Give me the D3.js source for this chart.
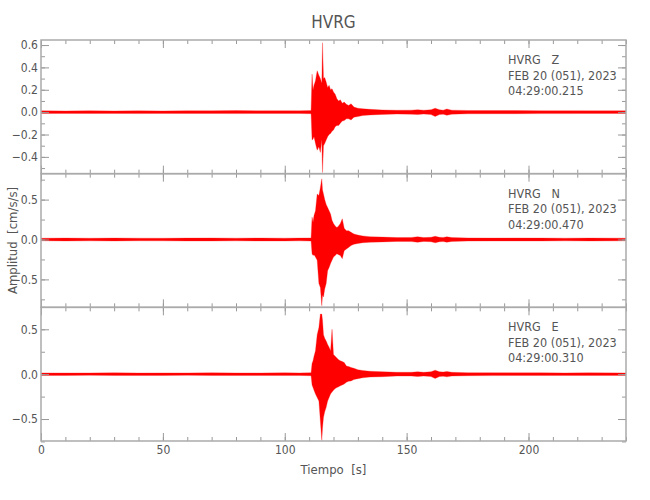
<!DOCTYPE html>
<html>
<head>
<meta charset="utf-8">
<script src="https://cdn.jsdelivr.net/npm/d3@7"></script>
<style>
  body { margin: 0; background: #fff; }
  text { font-family: "Liberation Sans Narrow", "DejaVu Sans Condensed", sans-serif; fill: #555; }
</style>
</head>
<body>
<script>
// tiempos (s) donde se leyo la envolvente de cada traza
var tiempo = [0, 10, 20, 30, 40, 50, 60, 70, 80, 90, 100, 106, 110.8, 111.2, 111.6, 112.0, 112.6, 113.3, 114.0, 114.6,
    115.2, 115.5, 115.9, 116.4, 117.0, 117.6, 118.2, 118.8, 119.4, 120.0, 120.7, 121.4, 122.1, 122.8, 123.6, 124.4,
    125.3, 126.2, 127.2, 128.4, 130, 132, 135, 140, 146, 152, 154.5, 157, 160, 161.7, 163.5, 165, 166.5, 168.5,
    175, 185, 195, 205, 215, 225, 240];

// envolvente superior / inferior, componente Z
var maxZ = [0.012, 0.011, 0.013, 0.011, 0.012, 0.011, 0.013, 0.012, 0.014, 0.012, 0.013, 0.012, 0.014, 0.34, 0.20, 0.24, 0.28, 0.37, 0.33, 0.30,
    0.26, 0.62, 0.30, 0.31, 0.27, 0.22, 0.24, 0.20, 0.21, 0.18, 0.16, 0.12, 0.10, 0.11, 0.08, 0.09,
    0.07, 0.06, 0.075, 0.045, 0.035, 0.03, 0.025, 0.02, 0.017, 0.018, 0.022, 0.017, 0.022, 0.035, 0.022, 0.018, 0.028, 0.018,
    0.015, 0.014, 0.014, 0.013, 0.013, 0.012, 0.012];
var minZ = [-0.012, -0.011, -0.012, -0.011, -0.013, -0.011, -0.012, -0.012, -0.013, -0.012, -0.012, -0.012, -0.014, -0.25, -0.24, -0.22, -0.28, -0.34, -0.31, -0.36,
    -0.25, -0.54, -0.30, -0.28, -0.25, -0.22, -0.20, -0.19, -0.17, -0.16, -0.13, -0.12, -0.12, -0.10, -0.08, -0.075,
    -0.06, -0.06, -0.07, -0.045, -0.04, -0.03, -0.025, -0.02, -0.017, -0.018, -0.022, -0.017, -0.022, -0.038, -0.022, -0.018, -0.028, -0.018,
    -0.015, -0.014, -0.014, -0.013, -0.013, -0.012, -0.012];

// componente N
var maxN = [0.016, 0.018, 0.016, 0.018, 0.017, 0.016, 0.018, 0.019, 0.017, 0.018, 0.017, 0.018, 0.02, 0.28, 0.22, 0.30, 0.36, 0.57, 0.55, 0.65,
    0.76, 0.62, 0.57, 0.50, 0.44, 0.40, 0.36, 0.32, 0.24, 0.20, 0.17, 0.15, 0.17, 0.20, 0.26, 0.14,
    0.11, 0.11, 0.09, 0.07, 0.055, 0.045, 0.035, 0.03, 0.024, 0.026, 0.035, 0.024, 0.028, 0.04, 0.028, 0.026, 0.034, 0.024,
    0.02, 0.018, 0.019, 0.018, 0.017, 0.018, 0.017];
var minN = [-0.016, -0.018, -0.017, -0.018, -0.016, -0.017, -0.018, -0.018, -0.017, -0.018, -0.018, -0.017, -0.02, -0.18, -0.20, -0.19, -0.22, -0.26, -0.55, -0.60,
    -0.83, -0.70, -0.72, -0.62, -0.55, -0.39, -0.35, -0.30, -0.26, -0.22, -0.20, -0.18, -0.19, -0.20, -0.24, -0.14,
    -0.12, -0.10, -0.075, -0.06, -0.05, -0.04, -0.035, -0.03, -0.024, -0.026, -0.035, -0.024, -0.028, -0.042, -0.028, -0.026, -0.034, -0.024,
    -0.02, -0.018, -0.018, -0.018, -0.017, -0.018, -0.017];

// componente E
var maxE = [0.014, 0.013, 0.014, 0.015, 0.013, 0.014, 0.014, 0.015, 0.014, 0.013, 0.015, 0.014, 0.017, 0.12, 0.15, 0.20, 0.26, 0.44, 0.52, 0.67,
    0.67, 0.60, 0.44, 0.40, 0.37, 0.33, 0.30, 0.26, 0.50, 0.22, 0.20, 0.18, 0.16, 0.15, 0.14, 0.13,
    0.09, 0.085, 0.075, 0.065, 0.05, 0.04, 0.032, 0.028, 0.021, 0.021, 0.027, 0.021, 0.027, 0.045, 0.027, 0.023, 0.03, 0.021,
    0.017, 0.016, 0.015, 0.015, 0.014, 0.015, 0.014];
var minE = [-0.014, -0.014, -0.013, -0.014, -0.015, -0.014, -0.013, -0.014, -0.015, -0.014, -0.014, -0.014, -0.017, -0.12, -0.15, -0.18, -0.22, -0.26, -0.30, -0.52,
    -0.74, -0.60, -0.48, -0.42, -0.37, -0.30, -0.26, -0.22, -0.20, -0.18, -0.16, -0.15, -0.14, -0.13, -0.12, -0.11,
    -0.09, -0.08, -0.075, -0.06, -0.05, -0.04, -0.032, -0.028, -0.021, -0.021, -0.027, -0.021, -0.027, -0.048, -0.027, -0.023, -0.03, -0.021,
    -0.017, -0.016, -0.015, -0.015, -0.014, -0.015, -0.014];

var componentes = ["Z", "N", "E"];
var horas = ["04:29:00.215", "04:29:00.470", "04:29:00.310"];
var fecha = "FEB 20 (051), 2023";
var estacion = "HVRG";

var ticksX = [0, 50, 100, 150, 200];
var ticksZ = [-0.4, -0.2, 0.0, 0.2, 0.4, 0.6];
var ticksNE = [-0.5, 0.0, 0.5];

var W = 650, H = 500;
var mLeft = 41, mRight = 626, mTop = 40, mBottom = 441;
var ph = (mBottom - mTop) / 3;

var svg = d3.select("body").append("svg").attr("width", W).attr("height", H);

var x = d3.scaleLinear().domain([0, 240]).range([mLeft, mRight]);
var minorX = d3.range(0, 241, 10);

var paneles = [
    {comp: componentes[0], max: maxZ, min: minZ, dom: [-0.55, 0.645], major: ticksZ, minor: d3.range(-0.5, 0.65, 0.1)},
    {comp: componentes[1], max: maxN, min: minN, dom: [-0.85, 0.825], major: ticksNE, minor: d3.range(-0.75, 0.8, 0.25)},
    {comp: componentes[2], max: maxE, min: minE, dom: [-0.745, 0.745], major: ticksNE, minor: d3.range(-0.75, 0.8, 0.25)}
];

var fmt = function (d) { return d3.format(".1f")(d).replace("-", "\u2212"); };

svg.append("defs").selectAll("clipPath").data(paneles).enter().append("clipPath")
    .attr("id", function (d, i) { return "clip" + i; })
    .append("rect")
    .attr("x", mLeft).attr("y", function (d, i) { return mTop + i * ph; })
    .attr("width", mRight - mLeft).attr("height", ph);

function estilo(g) {
    g.select(".domain").remove();
    g.selectAll(".tick line").attr("stroke", "#999").attr("stroke-width", 1);
    g.selectAll(".tick text").style("font-size", "12px").attr("fill", "#555");
}

paneles.forEach(function (p, i) {
    var y0 = mTop + i * ph;
    var y = d3.scaleLinear().domain(p.dom).range([y0 + ph, y0]);

    var area = d3.area()
        .x(function (d, k) { return x(tiempo[k]); })
        .y0(function (d, k) { return y(p.min[k]); })
        .y1(function (d, k) { return y(p.max[k]); });

    svg.append("path")
        .datum(tiempo)
        .attr("clip-path", "url(#clip" + i + ")")
        .attr("d", area)
        .attr("fill", "#ff0000")
        .attr("stroke", "#ff2020")
        .attr("stroke-width", 0.3);

    // ejes y
    svg.append("g").attr("transform", "translate(" + mLeft + ",0)")
        .call(d3.axisLeft(y).tickValues(p.major).tickSize(-8).tickPadding(3).tickFormat(fmt))
        .call(estilo);
    svg.append("g").attr("transform", "translate(" + mLeft + ",0)")
        .call(d3.axisLeft(y).tickValues(p.minor).tickSize(-4).tickFormat(""))
        .call(estilo);
    svg.append("g").attr("transform", "translate(" + mRight + ",0)")
        .call(d3.axisRight(y).tickValues(p.major).tickSize(-8).tickFormat(""))
        .call(estilo);
    svg.append("g").attr("transform", "translate(" + mRight + ",0)")
        .call(d3.axisRight(y).tickValues(p.minor).tickSize(-4).tickFormat(""))
        .call(estilo);

    // ejes x
    svg.append("g").attr("transform", "translate(0," + y0 + ")")
        .call(d3.axisTop(x).tickValues(ticksX).tickSize(-8).tickFormat(""))
        .call(estilo);
    svg.append("g").attr("transform", "translate(0," + y0 + ")")
        .call(d3.axisTop(x).tickValues(minorX).tickSize(-4).tickFormat(""))
        .call(estilo);
    svg.append("g").attr("transform", "translate(0," + (y0 + ph) + ")")
        .call(d3.axisBottom(x).tickValues(ticksX).tickSize(-8).tickPadding(4)
            .tickFormat(i === 2 ? d3.format("d") : ""))
        .call(estilo);
    svg.append("g").attr("transform", "translate(0," + (y0 + ph) + ")")
        .call(d3.axisBottom(x).tickValues(minorX).tickSize(-4).tickFormat(""))
        .call(estilo);

    // marco
    svg.append("rect")
        .attr("x", mLeft).attr("y", y0).attr("width", mRight - mLeft).attr("height", ph)
        .attr("fill", "none").attr("stroke", "#aaa").attr("stroke-width", 1.5);

    // rotulos
    var txt = svg.append("text").attr("x", 508).attr("y", y0 + 24)
        .style("font-size", "12.5px").style("white-space", "pre");
    txt.append("tspan").attr("x", 508).text(estacion + "   " + p.comp);
    txt.append("tspan").attr("x", 508).attr("dy", 15.5).text(fecha);
    txt.append("tspan").attr("x", 508).attr("dy", 15.5).text(horas[i]);
});

svg.append("text")
    .attr("x", (mLeft + mRight) / 2).attr("y", 28)
    .attr("text-anchor", "middle")
    .style("font-size", "17px")
    .text(estacion);

svg.append("text")
    .attr("x", (mLeft + mRight) / 2).attr("y", 474)
    .attr("text-anchor", "middle")
    .style("font-size", "13px")
    .style("white-space", "pre")
    .text("Tiempo  [s]");

svg.append("text")
    .attr("transform", "translate(17," + ((mTop + mBottom) / 2) + ") rotate(-90)")
    .attr("text-anchor", "middle")
    .style("font-size", "13px")
    .style("white-space", "pre")
    .text("Amplitud  [cm/s/s]");
</script>
</body>
</html>
